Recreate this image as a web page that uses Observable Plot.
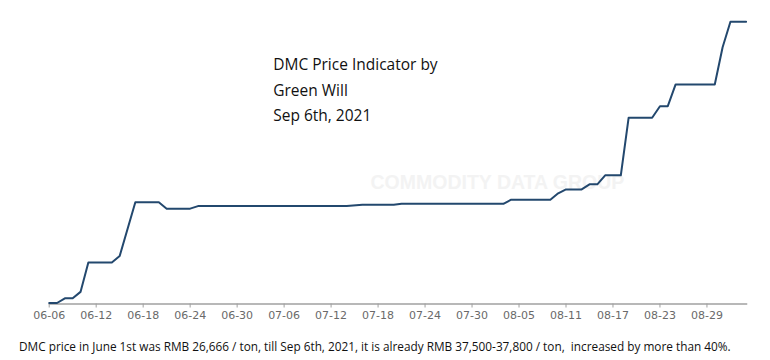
<!DOCTYPE html>
<html>
<head>
<meta charset="utf-8">
<script src="https://cdn.jsdelivr.net/npm/d3@7"></script>
<script src="https://cdn.jsdelivr.net/npm/@observablehq/plot@0.6"></script>
<style>
  html, body { margin: 0; padding: 0; background: #fff; }
  #wrap { position: relative; width: 770px; height: 360px; overflow: hidden; }
  #caption { position: absolute; left: 19px; top: 338.5px; font-family: "Open Sans", sans-serif; font-size: 11.8px; line-height: 14px; color: #111; white-space: pre; }
</style>
</head>
<body>
<div id="wrap"><div id="chart"></div><div id="caption"></div></div>
<script>
const dates = ["2021-06-06","2021-06-07","2021-06-08","2021-06-09","2021-06-10","2021-06-11","2021-06-14","2021-06-15","2021-06-17","2021-06-20","2021-06-21","2021-06-24","2021-06-25","2021-07-14","2021-07-16","2021-07-20","2021-07-21","2021-08-03","2021-08-04","2021-08-09","2021-08-10","2021-08-11","2021-08-13","2021-08-14","2021-08-15","2021-08-16","2021-08-18","2021-08-19","2021-08-22","2021-08-23","2021-08-24","2021-08-25","2021-08-30","2021-08-31","2021-09-01","2021-09-03"];
const prices = [26666,26666,26850,26850,27100,28250,28250,28500,30600,30600,30350,30350,30450,30450,30500,30500,30540,30540,30700,30700,30950,31100,31100,31300,31300,31650,31650,33900,33900,34350,34350,35200,35200,36650,37650,37650];
const tickLabels = ["06-06","06-12","06-18","06-24","06-30","07-06","07-12","07-18","07-24","07-30","08-05","08-11","08-17","08-23","08-29"];
const titleText = "DMC Price Indicator by\nGreen Will\nSep 6th, 2021";
const watermark = "COMMODITY DATA GROUP";
const captionText = "DMC price in June 1st was RMB 26,666 / ton, till Sep 6th, 2021, it is already RMB 37,500-37,800 / ton,  increased by more than 40%.";

const data = dates.map((d, i) => ({date: new Date(d + "T00:00:00Z"), price: prices[i]}));
const ticks = tickLabels.map(t => new Date("2021-" + t + "T00:00:00Z"));

const chart = Plot.plot({
  width: 770,
  height: 330,
  marginLeft: 49,
  marginRight: 24,
  marginTop: 21,
  marginBottom: 26.5,
  style: {background: "#fff"},
  x: {type: "utc", domain: [new Date("2021-06-06T00:00:00Z"), new Date("2021-09-03T00:00:00Z")], range: [48.7, 745.6]},
  y: {domain: [26666, 37650], range: [302.5, 21.2], axis: null},
  marks: [
    Plot.text([watermark], {frameAnchor: "top-left", text: d => d, dx: 321, dy: 154, lineAnchor: "top", textAnchor: "start", fontSize: 19.5, fontWeight: "bold", fontFamily: "Liberation Sans, Arial, sans-serif", fill: "#f3f3f3"}),
    Plot.frame({anchor: "bottom", stroke: "#a0a0a0", strokeWidth: 1.5}),
    Plot.axisX({ticks: ticks, tickFormat: d3.utcFormat("%m-%d"), tickSize: 4, tickPadding: 3.5, stroke: "#a0a0a0", fill: "#6a6a6a", fontSize: 11, fontFamily: "DejaVu Sans, sans-serif", strokeOpacity: 1}),
    Plot.line(data, {x: "date", y: "price", stroke: "#23486e", strokeWidth: 2}),
    Plot.text([titleText], {frameAnchor: "top-left", text: d => d, dx: 223.7, dy: 30, lineAnchor: "top", textAnchor: "start", lineHeight: 25.8/15.5, fontSize: 15.5, fontFamily: "Open Sans, sans-serif", fill: "#111"})
  ]
});
document.getElementById("chart").appendChild(chart);
document.getElementById("caption").textContent = captionText;
</script>
</body>
</html>
